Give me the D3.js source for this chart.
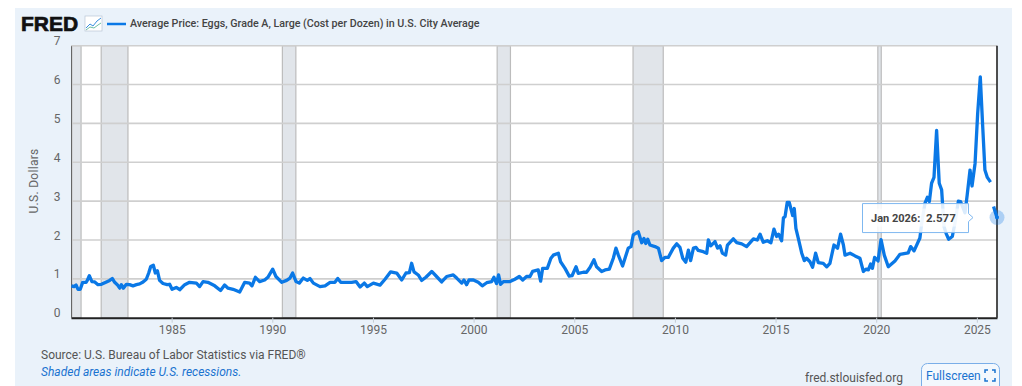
<!DOCTYPE html>
<html>
<head>
<meta charset="utf-8">
<script src="https://cdn.jsdelivr.net/npm/d3@7"></script>
<style>
  html, body { margin: 0; padding: 0; background: #fff; overflow: hidden; }
  text { font-family: Roboto, sans-serif; }
</style>
</head>
<body>
<div id="chart-area"></div>
<script>
var years = [
  1980.02,1980.15,1980.25,1980.35,1980.46,1980.58,1980.75,1980.81,1980.91,1981.04,1981.18,1981.34,1981.51,1981.76,1981.92,
  1982.05,1982.17,1982.30,1982.42,1982.50,1982.60,1982.75,1982.91,1983.08,1983.25,1983.41,1983.58,1983.74,1983.86,1983.96,
  1984.09,1984.19,1984.29,1984.40,1984.57,1984.78,1984.90,1985.02,1985.23,1985.40,1985.65,1985.89,1986.23,1986.39,1986.56,
  1986.80,1987.14,1987.43,1987.63,1987.80,1988.05,1988.38,1988.63,1988.87,1988.99,1989.16,1989.37,1989.62,1989.78,1990.02,
  1990.18,1990.47,1990.71,1990.88,1991.01,1991.18,1991.34,1991.54,1991.74,1991.87,1992.04,1992.37,1992.62,1992.87,1993.11,
  1993.25,1993.40,1993.69,1993.94,1994.16,1994.36,1994.57,1994.72,1995.02,1995.35,1995.60,1995.88,1996.18,1996.43,1996.64,
  1996.81,1996.92,1997.04,1997.25,1997.42,1997.63,1997.92,1998.16,1998.41,1998.66,1998.99,1999.16,1999.41,1999.52,1999.65,
  1999.77,1999.99,2000.23,2000.43,2000.65,2000.90,2001.01,2001.14,2001.24,2001.34,2001.48,2001.81,2002.05,2002.27,2002.44,
  2002.63,2002.80,2002.93,2003.21,2003.33,2003.43,2003.66,2003.84,2003.96,2004.21,2004.32,2004.54,2004.75,2004.89,2005.09,
  2005.20,2005.45,2005.61,2005.78,2005.98,2006.11,2006.36,2006.53,2006.74,2006.94,2007.07,2007.19,2007.40,2007.68,2007.82,
  2007.93,2008.18,2008.35,2008.46,2008.55,2008.65,2008.76,2009.01,2009.18,2009.34,2009.50,2009.67,2009.92,2010.09,2010.25,
  2010.39,2010.54,2010.67,2010.78,2010.92,2011.05,2011.16,2011.41,2011.58,2011.66,2011.78,2011.99,2012.12,2012.24,2012.36,
  2012.52,2012.61,2012.90,2013.07,2013.32,2013.56,2013.90,2014.09,2014.23,2014.39,2014.59,2014.77,2014.92,2015.05,2015.15,
  2015.30,2015.39,2015.47,2015.58,2015.68,2015.85,2015.93,2016.01,2016.13,2016.30,2016.43,2016.54,2016.71,2016.84,2016.99,
  2017.12,2017.37,2017.54,2017.70,2017.90,2018.08,2018.23,2018.37,2018.45,2018.70,2018.95,2019.19,2019.36,2019.49,2019.61,
  2019.72,2019.81,2019.92,2020.09,2020.24,2020.40,2020.60,2020.93,2021.18,2021.59,2021.71,2021.88,2022.17,2022.26,2022.42,
  2022.54,2022.64,2022.75,2022.87,2023.00,2023.13,2023.25,2023.37,2023.47,2023.60,2023.78,2023.91,2024.08,2024.19,2024.41,
  2024.52,2024.66,2024.76,2024.91,2025.04,2025.17,2025.29,2025.40,2025.52,2025.68,2025.75,2025.83,2025.92,2026.00
];
var prices = [
  .82,.80,.84,.73,.73,.91,.91,.96,1.08,.93,.92,.85,.86,.92,.96,
  1.01,.91,.85,.76,.85,.76,.86,.85,.82,.85,.87,.92,.99,1.15,1.32,
  1.35,1.15,1.21,.96,.88,.85,.86,.73,.78,.72,.85,.91,.89,.80,.93,
  .91,.82,.70,.84,.76,.73,.66,.91,.89,.82,1.04,.93,.97,1.04,1.25,
  1.06,.91,.96,1.02,1.15,.93,.89,1.02,.96,1.01,.89,.80,.82,.91,.91,
  1.01,.91,.91,.91,.93,.79,.89,.80,.89,.84,.99,1.18,1.15,.97,1.15,
  1.16,1.40,1.18,1.10,.96,1.04,1.19,1.06,.92,1.06,1.10,1.02,.89,.97,.85,
  .97,.97,.91,.82,.90,.93,1.04,.88,1.10,.86,.93,.93,.99,1.06,.97,
  1.06,1.06,1.19,1.23,.94,1.27,1.27,1.53,1.61,1.66,1.44,1.27,1.07,1.08,1.31,
  1.14,1.17,1.17,1.29,1.49,1.31,1.19,1.23,1.25,1.53,1.79,1.61,1.33,1.79,1.83,
  2.13,2.21,1.93,2.04,1.91,2.02,1.87,1.83,1.79,1.47,1.55,1.55,1.79,1.90,1.81,
  1.53,1.43,1.74,1.47,1.79,1.81,1.73,1.70,1.66,2.00,1.85,1.96,1.79,1.85,1.66,
  1.61,1.87,2.03,1.93,1.90,1.83,2.03,2.00,2.15,1.94,1.98,1.93,2.28,2.09,2.15,
  1.98,2.57,2.60,2.97,2.97,2.63,2.81,2.30,2.04,1.66,1.47,1.53,1.44,1.30,1.66,
  1.42,1.40,1.31,1.40,1.87,1.79,2.15,1.87,1.61,1.66,1.59,1.53,1.19,1.25,1.23,
  1.38,1.27,1.55,1.46,2.01,1.61,1.31,1.46,1.63,1.67,1.83,1.72,2.05,2.43,2.94,
  3.10,2.99,3.46,3.61,4.82,3.46,3.29,2.34,2.17,2.02,2.09,2.43,3.00,2.99,2.70,
  3.16,3.80,3.39,3.97,5.26,6.20,4.92,3.80,3.61,3.49,null,2.86,2.71,2.577
];
var yTicks = [0, 1, 2, 3, 4, 5, 6, 7];
var xTicks = [1985, 1990, 1995, 2000, 2005, 2010, 2015, 2020, 2025];
var recessionStart = [1980.04, 1981.5, 1990.5, 2001.17, 2007.92, 2020.08];
var recessionEnd   = [1980.5, 1982.83, 1991.17, 2001.83, 2009.42, 2020.25];

var width = 1022, height = 386;
var svg = d3.select("#chart-area").append("svg")
  .attr("width", width)
  .attr("height", height)
  .style("display", "block");

// panel
svg.append("rect").attr("x", 15).attr("y", 8).attr("width", 997).attr("height", 378).attr("fill", "#eaf2fa");

var x = d3.scaleLinear().domain([1980, 2026]).range([71, 997]);
var y = d3.scaleLinear().domain([0, 7]).range([317.7, 45.7]);

// plot area
svg.append("rect")
  .attr("x", x(1980)).attr("y", y(7))
  .attr("width", x(2026) - x(1980)).attr("height", y(0) - y(7))
  .attr("fill", "#fff");

// recessions
svg.append("g").selectAll("rect")
  .data(recessionStart)
  .enter()
  .append("rect")
    .attr("x", (d) => x(d))
    .attr("y", y(7))
    .attr("width", (d, i) => x(recessionEnd[i]) - x(d))
    .attr("height", y(0) - y(7))
    .attr("fill", "#e1e5ea")
    .attr("stroke", "#bcbcbc")
    .attr("stroke-width", 1.2);

// gridlines
svg.append("g").selectAll("line")
  .data(yTicks.slice(1))
  .enter()
  .append("line")
    .attr("x1", x(1980)).attr("x2", x(2026))
    .attr("y1", (d) => y(d)).attr("y2", (d) => y(d))
    .attr("stroke", "#cfcfcf")
    .attr("stroke-width", 1.6);

// axes
var bottomAxis = d3.axisBottom(x).tickValues(xTicks).tickFormat(d3.format("d")).tickSize(5).tickSizeOuter(0);
var gx = svg.append("g")
  .attr("transform", "translate(0," + y(0) + ")")
  .call(bottomAxis);
gx.select(".domain").attr("stroke", "#222").attr("stroke-width", 2);
gx.selectAll(".tick line").attr("stroke", "#c4ccd4");
gx.selectAll("text").attr("y", 8).attr("font-size", "12px").attr("fill", "#666").attr("font-family", "Roboto, sans-serif");

var leftAxis = d3.axisLeft(y).tickValues(yTicks).tickFormat(d3.format("d")).tickSize(0);
var gy = svg.append("g")
  .attr("transform", "translate(" + x(1980) + ",0)")
  .call(leftAxis);
gy.select(".domain").attr("stroke", "#666").attr("stroke-width", 1);
gy.selectAll("text")
  .attr("x", -14).attr("dy", "-0.08em")
  .attr("text-anchor", "middle")
  .attr("font-size", "12px").attr("fill", "#666").attr("font-family", "Roboto, sans-serif");

// right edge of the plot
svg.append("line")
  .attr("x1", x(2026)).attr("x2", x(2026))
  .attr("y1", y(7)).attr("y2", y(0))
  .attr("stroke", "#222").attr("stroke-width", 1.6);

// Y label
svg.append("text")
  .attr("transform", "translate(38," + 181 + ") rotate(-90)")
  .attr("text-anchor", "middle")
  .attr("font-size", "12px")
  .attr("letter-spacing", "0.3px")
  .attr("fill", "#666")
  .text("U.S. Dollars");

// series
var points = years.map((d, i) => ({year: d, price: prices[i]}));
var line = d3.line()
  .defined((d) => d.price !== null)
  .x((d) => x(d.year))
  .y((d) => y(d.price));
svg.append("path")
  .datum(points)
  .attr("fill", "none")
  .attr("stroke", "#0a78e6")
  .attr("stroke-width", 3.3)
  .attr("stroke-linejoin", "round")
  .attr("d", line);

// header
svg.append("text")
  .attr("x", 21).attr("y", 31)
  .attr("font-family", "'Liberation Sans', sans-serif")
  .style("font-family", "'Liberation Sans', sans-serif")
  .attr("font-size", "21px")
  .attr("font-weight", 700)
  .attr("stroke", "#111").attr("stroke-width", 0.7)
  .attr("fill", "#111")
  .text("FRED");

var icon = svg.append("g").attr("transform", "translate(85,16)");
icon.append("rect").attr("width", 17).attr("height", 15).attr("fill", "#fff").attr("stroke", "#b9c6d4").attr("stroke-width", 0.7);
icon.append("path").attr("d", "M1,12 L5,8 L8,10 L12,5 L16,2").attr("fill", "none").attr("stroke", "#3a8fe0").attr("stroke-width", 1);
icon.append("path").attr("d", "M1,14 L5,11 L9,12 L13,9 L16,7").attr("fill", "none").attr("stroke", "#6fbfa5").attr("stroke-width", 1);

svg.append("line").attr("x1", 107).attr("x2", 126).attr("y1", 24).attr("y2", 24)
  .attr("stroke", "#0a78e6").attr("stroke-width", 2.5);
svg.append("text")
  .attr("x", 130).attr("y", 27)
  .attr("font-size", "10.7px")
  .attr("font-weight", 500)
  .attr("fill", "#444")
  .text("Average Price: Eggs, Grade A, Large (Cost per Dozen) in U.S. City Average");

// footer
svg.append("text").attr("x", 41).attr("y", 359)
  .attr("font-size", "12px").attr("fill", "#555")
  .text("Source: U.S. Bureau of Labor Statistics via FRED\u00ae");
svg.append("text").attr("x", 41).attr("y", 376)
  .attr("font-size", "12px").attr("font-style", "italic").attr("fill", "#1a73d0")
  .text("Shaded areas indicate U.S. recessions.");
svg.append("text").attr("x", 805).attr("y", 382)
  .attr("font-size", "12px").attr("fill", "#555")
  .text("fred.stlouisfed.org");

svg.append("rect").attr("x", 921.5).attr("y", 363.5).attr("width", 78).attr("height", 30).attr("rx", 6)
  .attr("fill", "#f3f8fd").attr("stroke", "#7aaee8");
svg.append("text").attr("x", 926).attr("y", 380)
  .attr("font-size", "12px").attr("fill", "#1a73d0")
  .text("Fullscreen");
svg.append("path")
  .attr("d", "M985,373V370H988 M992,370H995V373 M995,378V381H992 M988,381H985V378")
  .attr("fill", "none").attr("stroke", "#1a73d0").attr("stroke-width", 1.5);

// hover marker and tooltip for the last point
var lastYear = years[years.length - 1], lastPrice = prices[prices.length - 1];
svg.append("circle").attr("cx", x(lastYear)).attr("cy", y(lastPrice)).attr("r", 7.5)
  .attr("fill", "#0a78e6").attr("fill-opacity", 0.28);
svg.append("circle").attr("cx", x(lastYear)).attr("cy", y(lastPrice)).attr("r", 2)
  .attr("fill", "#0a78e6");

var tipY = y(lastPrice);
svg.append("path")
  .attr("d", "M862.5," + (tipY - 14) + "H968.5V" + (tipY - 4) + "L973," + tipY + "L968.5," + (tipY + 4) + "V" + (tipY + 15) + "H862.5Z")
  .attr("fill", "#fff").attr("fill-opacity", 0.85)
  .attr("stroke", "#7fb8f0");
svg.append("rect").attr("x", 870).attr("y", tipY - 9).attr("width", 90).attr("height", 18)
  .attr("fill", "#fff").attr("fill-opacity", 0.6);
svg.append("text").attr("x", 871).attr("y", tipY + 4)
  .attr("font-size", "11px").attr("font-weight", 700).attr("fill", "#444")
  .text("Jan 2026:");
svg.append("text").attr("x", 926).attr("y", tipY + 4)
  .attr("font-size", "11.5px").attr("font-weight", 700).attr("fill", "#444")
  .text(lastPrice);
</script>
</body>
</html>
